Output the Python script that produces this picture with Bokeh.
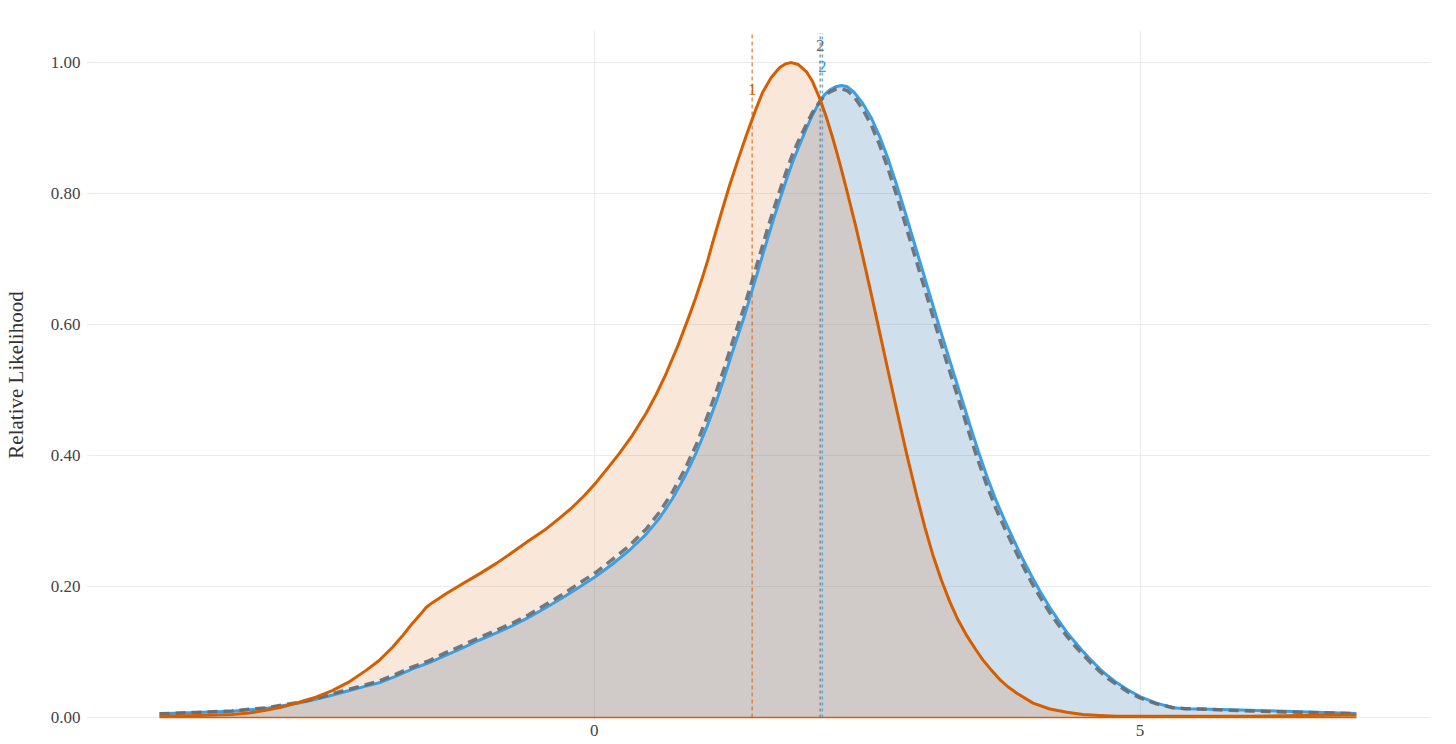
from bokeh.plotting import figure
from bokeh.models import FixedTicker, PrintfTickFormatter, Range1d
from bokeh.core.properties import value
from bokeh.embed import file_html
from bokeh.resources import INLINE

# ---- data ----
orange_x = [-3.982, -3.62, -3.32, -3.16, -3.01, -2.86, -2.71, -2.55, -2.40, -2.25,
            -2.09, -1.97, -1.85, -1.76, -1.67, -1.60, -1.54, -1.51, -1.486, -1.42,
            -1.358, -1.21, -1.055, -0.90, -0.752, -0.60, -0.44, -0.32, -0.20, -0.09,
            0.018, 0.12, 0.229, 0.35, 0.477, 0.57, 0.661, 0.77, 0.872, 0.93,
            0.991, 1.04, 1.083, 1.16, 1.239, 1.32, 1.394, 1.47, 1.541, 1.62,
            1.697, 1.75, 1.807, 1.87, 1.945, 2.00, 2.064, 2.12, 2.183, 2.25,
            2.312, 2.39, 2.459, 2.54, 2.615, 2.69, 2.771, 2.86, 2.954, 3.03,
            3.101, 3.18, 3.257, 3.33, 3.413, 3.49, 3.560, 3.64, 3.716, 3.79,
            3.872, 4.02, 4.174, 4.33, 4.477, 4.63, 4.789, 5.55, 6.00, 6.468, 6.982]
orange_y = [0.002, 0.003, 0.0046, 0.007, 0.011, 0.016, 0.023, 0.031, 0.041, 0.054,
            0.072, 0.087, 0.107, 0.124, 0.143, 0.156, 0.168, 0.172, 0.175, 0.182,
            0.189, 0.204, 0.219, 0.235, 0.252, 0.270, 0.288, 0.304, 0.321, 0.339,
            0.359, 0.380, 0.403, 0.431, 0.465, 0.494, 0.526, 0.569, 0.614, 0.641,
            0.672, 0.698, 0.724, 0.768, 0.812, 0.853, 0.889, 0.924, 0.954, 0.977,
            0.992, 0.998, 1.000, 0.997, 0.986, 0.971, 0.946, 0.920, 0.886, 0.846,
            0.806, 0.754, 0.705, 0.645, 0.588, 0.531, 0.470, 0.404, 0.339, 0.290,
            0.249, 0.210, 0.177, 0.150, 0.125, 0.105, 0.088, 0.072, 0.058, 0.047,
            0.037, 0.022, 0.013, 0.008, 0.0045, 0.003, 0.002, 0.002, 0.002, 0.003, 0.004]

blue_x = [-3.982, -3.65, -3.321, -3.16, -3.009, -2.86, -2.706, -2.55, -2.404, -2.25,
          -2.092, -1.97, -1.82, -1.67, -1.51, -1.36, -1.21, -1.055, -0.90, -0.752,
          -0.60, -0.44, -0.29, -0.138, 0.01, 0.165, 0.32, 0.477, 0.60, 0.716,
          0.83, 0.936, 1.03, 1.119, 1.19, 1.266, 1.376, 1.43, 1.486, 1.55,
          1.606, 1.65, 1.697, 1.76, 1.817, 1.88, 1.945, 2.00, 2.064, 2.11,
          2.156, 2.21, 2.266, 2.32, 2.38, 2.459, 2.54, 2.615, 2.69, 2.771,
          2.84, 2.917, 3.00, 3.073, 3.15, 3.229, 3.30, 3.376, 3.45, 3.52,
          3.60, 3.68, 3.76, 3.84, 3.92, 4.00, 4.08, 4.174, 4.25, 4.33,
          4.40, 4.477, 4.55, 4.633, 4.71, 4.789, 4.89, 5.000, 5.15, 5.303,
          5.42, 5.550, 6.009, 6.468, 6.982]
blue_y = [0.0056, 0.0075, 0.0096, 0.012, 0.014, 0.018, 0.022, 0.028, 0.034, 0.041,
          0.048, 0.053, 0.063, 0.074, 0.084, 0.095, 0.106, 0.118, 0.129, 0.140,
          0.153, 0.168, 0.183, 0.199, 0.215, 0.234, 0.255, 0.280, 0.305, 0.334,
          0.368, 0.405, 0.443, 0.483, 0.518, 0.558, 0.613, 0.643, 0.674, 0.710,
          0.741, 0.765, 0.789, 0.821, 0.848, 0.874, 0.900, 0.920, 0.940, 0.951,
          0.958, 0.963, 0.965, 0.963, 0.955, 0.938, 0.915, 0.887, 0.854, 0.813,
          0.776, 0.733, 0.687, 0.646, 0.603, 0.560, 0.522, 0.482, 0.442, 0.406,
          0.367, 0.332, 0.301, 0.272, 0.244, 0.218, 0.194, 0.168, 0.149, 0.130,
          0.116, 0.101, 0.088, 0.074, 0.063, 0.053, 0.042, 0.032, 0.022, 0.015,
          0.0135, 0.013, 0.011, 0.009, 0.006]

gray_x = blue_x
gray_y = [0.0058, 0.0078, 0.0100, 0.0125, 0.0147, 0.019, 0.023, 0.029, 0.036, 0.043,
          0.050, 0.056, 0.066, 0.077, 0.087, 0.099, 0.110, 0.122, 0.133, 0.144,
          0.157, 0.173, 0.188, 0.205, 0.221, 0.241, 0.262, 0.288, 0.314, 0.344,
          0.379, 0.417, 0.457, 0.498, 0.533, 0.573, 0.628, 0.658, 0.689, 0.725,
          0.756, 0.779, 0.803, 0.834, 0.860, 0.884, 0.906, 0.924, 0.940, 0.949,
          0.955, 0.959, 0.960, 0.957, 0.948, 0.929, 0.904, 0.874, 0.839, 0.797,
          0.759, 0.716, 0.670, 0.629, 0.586, 0.543, 0.506, 0.466, 0.426, 0.391,
          0.353, 0.319, 0.289, 0.261, 0.234, 0.208, 0.185, 0.160, 0.142, 0.124,
          0.110, 0.096, 0.083, 0.070, 0.059, 0.050, 0.039, 0.030, 0.021, 0.015,
          0.0135, 0.013, 0.010, 0.008, 0.006]

marker_x = [1.447, 2.070, 2.090]
marker_labels = ["1", "2", "2"]
marker_label_y = [0.959, 1.026, 0.994]
marker_colors = ["#D55E00", "#5f6f82", "#3A9FE4"]

x_ticks = [0, 5]
y_ticks = [0.0, 0.2, 0.4, 0.6, 0.8, 1.0]

FONT = "Liberation Serif"
ORANGE = "#D55E00"
BLUE = "#3A9FE4"

p = figure(width=1440, height=744, output_backend="svg", toolbar_location=None,
           x_range=Range1d(-4.651, 7.661), y_range=Range1d(-0.003, 1.049),
           min_border_left=80, min_border_right=10, min_border_top=30, min_border_bottom=25)
p.outline_line_color = None
p.background_fill_color = "white"
p.border_fill_color = "white"

# fills
p.varea(x=blue_x, y1=0, y2=blue_y, fill_color="steelblue", fill_alpha=0.26)
p.varea(x=orange_x, y1=0, y2=orange_y, fill_color=ORANGE, fill_alpha=0.15)

# vertical markers
p.segment(x0=marker_x[:1], y0=[0], x1=marker_x[:1], y1=[1.045], line_color=ORANGE,
          line_alpha=0.65, line_width=1.5, line_dash="4 3")
p.segment(x0=marker_x[1:2], y0=[0], x1=marker_x[1:2], y1=[1.045], line_color=marker_colors[1],
          line_alpha=0.7, line_width=1.5, line_dash="3 3")
p.segment(x0=marker_x[2:], y0=[0], x1=marker_x[2:], y1=[1.045], line_color=BLUE,
          line_alpha=0.8, line_width=1.5, line_dash="3 3")

# baseline
p.line(x=[orange_x[0], orange_x[-1]], y=[0, 0], line_color=ORANGE, line_width=1.5)

# curves
p.line(x=blue_x, y=blue_y, line_color=BLUE, line_width=3, line_join="round")
p.line(x=gray_x, y=gray_y, line_color="#666a70", line_width=3.5, line_dash="10 6",
       line_alpha=0.9, line_join="round")
p.line(x=orange_x, y=orange_y, line_color=ORANGE, line_width=3, line_join="round")

# marker labels
p.text(x=marker_x, y=marker_label_y, text=marker_labels, text_color=marker_colors,
       text_font=value(FONT), text_font_size="17px", text_align="center",
       text_baseline="middle")

# axes
for ax in (p.xaxis[0], p.yaxis[0]):
    ax.axis_line_color = None
    ax.major_tick_line_color = None
    ax.minor_tick_line_color = None
    ax.major_tick_out = 0
    ax.major_tick_in = 0
    ax.minor_tick_out = 0
    ax.minor_tick_in = 0
    ax.major_label_text_font = FONT
    ax.major_label_text_font_size = "17px"
    ax.major_label_text_color = "#444444"

p.xaxis.ticker = FixedTicker(ticks=x_ticks)
p.yaxis.ticker = FixedTicker(ticks=y_ticks)
p.yaxis.formatter = PrintfTickFormatter(format="%.2f")
p.xaxis.major_label_standoff = 5
p.yaxis.major_label_standoff = 6

p.yaxis.axis_label = "Relative Likelihood"
p.yaxis.axis_label_text_font = FONT
p.yaxis.axis_label_text_font_style = "normal"
p.yaxis.axis_label_text_font_size = "21px"
p.yaxis.axis_label_text_color = "#333333"
p.yaxis.axis_label_standoff = 20

p.xgrid.grid_line_color = "#ebebeb"
p.ygrid.grid_line_color = "#ebebeb"
p.xgrid.grid_line_width = 1
p.ygrid.grid_line_width = 1

open("out.html", "w").write(file_html(p, INLINE))
